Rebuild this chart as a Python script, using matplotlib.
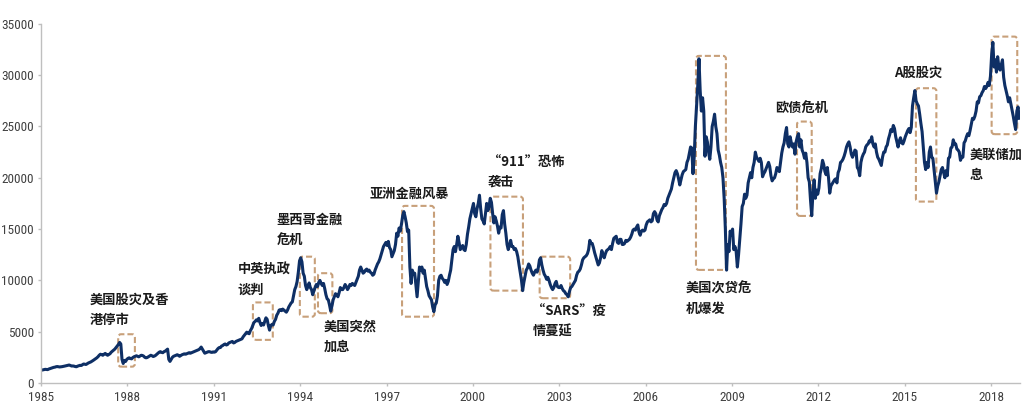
import matplotlib
matplotlib.use("Agg")
import matplotlib.pyplot as plt
from matplotlib import font_manager
import numpy as np
from matplotlib.patches import FancyBboxPatch

# Hang Seng Index, twice a month
start_year = 1985
hsi = [
    1250, 1270, 1300, 1330, 1310, 1300, 1360, 1400, 1450, 1480, 1520, 1540, 1580, 1600, 1580, 1560, 1570, 1590, 1610, 1640, 1670, 1700, 1720, 1750,  # 1985
    1700, 1650, 1660, 1640, 1600, 1580, 1640, 1680, 1720, 1700, 1780, 1850, 1820, 1800, 1880, 1950, 2000, 2050, 2120, 2200, 2280, 2350, 2450, 2560,  # 1986
    2700, 2800, 2760, 2700, 2800, 2880, 2780, 2700, 2780, 2850, 3000, 3100, 3200, 3300, 3450, 3600, 3750, 3950, 3800, 2300, 1900, 2200, 2100, 2300,  # 1987
    2400, 2450, 2380, 2350, 2480, 2550, 2600, 2650, 2600, 2550, 2620, 2700, 2680, 2620, 2500, 2450, 2480, 2550, 2620, 2700, 2650, 2580, 2620, 2690,  # 1988
    2800, 2900, 3000, 3050, 2980, 2950, 3050, 3100, 3200, 3300, 2300, 2100, 2300, 2500, 2600, 2650, 2700, 2750, 2700, 2600, 2680, 2750, 2800, 2840,  # 1989
    2800, 2850, 2900, 2950, 2900, 2950, 3000, 3050, 3100, 3150, 3200, 3250, 3350, 3500, 3300, 3100, 2900, 2950, 3000, 3050, 3050, 3000, 2980, 3030,  # 1990
    3000, 3050, 3200, 3350, 3450, 3450, 3600, 3650, 3750, 3800, 3700, 3750, 3900, 3950, 4000, 4050, 3900, 3950, 4050, 4100, 4150, 4200, 4250, 4300,  # 1991
    4500, 4650, 4800, 4950, 4850, 4800, 5100, 5300, 5600, 5900, 6000, 6150, 6050, 6300, 5900, 5600, 5800, 5650, 6000, 6350, 6200, 5600, 5150, 5600,  # 1992
    5700, 5650, 6000, 6200, 6600, 6800, 7100, 7150, 7050, 7200, 7100, 7000, 6900, 7100, 7400, 7600, 7800, 7900, 8500, 9100, 9400, 9900, 10800, 11900,  # 1993
    12200, 11800, 10700, 10400, 9500, 9100, 9400, 9750, 9300, 9100, 8600, 9000, 9300, 9600, 9400, 9800, 10000, 9700, 9500, 9700, 9200, 8600, 8200, 8100,  # 1994
    7600, 7000, 7500, 8100, 8400, 8700, 8600, 8400, 8800, 9300, 9100, 9100, 9300, 9600, 9400, 9100, 9300, 9600, 9500, 9700, 9600, 9500, 9800, 10100,  # 1995
    10400, 11000, 11300, 11000, 10700, 10800, 11000, 11100, 10900, 11000, 10800, 10700, 10500, 10600, 11000, 11300, 11600, 11800, 12100, 12500, 12900, 13300, 13500, 13700,  # 1996
    13400, 13800, 13200, 13000, 12300, 12600, 12900, 13500, 14600, 14300, 15100, 14800, 15500, 16300, 16700, 16200, 15600, 14750, 14900, 11300, 9700, 11000, 10600, 10700,  # 1997
    9500, 8400, 9800, 11300, 11000, 11300, 10700, 11000, 10200, 9400, 9000, 8500, 8300, 8100, 7400, 6950, 7600, 7800, 8500, 10000, 10400, 10500, 10200, 10050,  # 1998
    9800, 10000, 9600, 9900, 10500, 11000, 12000, 13000, 13300, 12800, 13500, 14300, 13700, 13000, 13200, 13400, 13000, 12900, 13500, 14500, 15200, 16000, 16500, 17000,  # 1999
    17500, 16500, 16200, 17000, 17500, 18300, 17000, 16000, 15800, 15500, 16500, 17500, 16800, 17200, 18000, 17600, 16500, 15600, 16200, 15800, 15300, 14600, 15200, 15100,  # 2000
    16400, 16800, 15500, 14600, 13500, 13000, 13400, 13900, 13300, 13300, 13000, 13100, 12800, 12300, 11500, 10800, 10040, 9000, 9800, 10400, 11000, 11200, 11600, 11400,  # 2001
    11000, 10700, 10500, 10800, 11000, 10800, 11200, 12000, 12200, 11500, 11000, 10600, 10400, 10100, 10300, 10000, 9600, 9300, 9100, 9300, 9700, 9900, 9400, 9300,  # 2002
    9300, 9500, 9200, 9000, 8900, 8700, 8600, 8400, 8900, 9300, 9400, 9600, 9800, 10000, 10500, 10800, 10900, 11100, 11500, 12000, 12200, 12300, 12400, 12600,  # 2003
    13000, 13900, 13600, 13600, 13200, 12700, 12300, 11900, 11500, 11700, 12200, 12900, 12500, 12200, 12600, 12900, 13000, 13100, 13300, 13000, 13600, 14100, 14200, 14300,  # 2004
    13700, 13600, 14000, 14000, 13500, 13500, 13600, 13900, 13800, 13900, 14000, 14200, 14500, 14900, 15000, 14900, 15200, 15400, 14700, 14400, 14800, 14900, 14800, 14900,  # 2005
    15400, 15700, 15800, 15900, 15700, 15800, 16500, 16700, 16500, 15900, 15700, 16300, 16600, 16900, 17100, 17400, 17300, 17500, 18000, 18300, 18600, 18900, 19500, 20000,  # 2006
    20500, 20700, 20400, 19900, 19300, 19800, 20300, 20600, 20700, 20800, 21500, 21800, 22400, 23000, 22900, 20400, 22000, 25000, 27000, 29000, 31600, 28500, 26500, 27800,  # 2007
    26500, 22100, 24000, 23500, 22500, 21800, 23000, 25000, 25500, 26200, 25000, 24300, 22700, 22200, 21500, 21000, 20000, 18000, 15000, 11000, 13500, 12800, 14800, 14400,  # 2008
    15000, 13000, 13300, 12800, 11300, 12500, 14000, 15500, 17200, 17500, 18400, 18000, 18300, 19500, 20000, 20500, 20000, 21000, 21500, 22500, 22000, 21800, 21600, 21900,  # 2009
    21500, 20100, 20400, 20600, 20900, 21200, 21500, 21100, 20200, 19700, 19900, 20000, 20400, 21000, 20900, 20600, 21500, 22400, 23000, 23400, 24300, 24900, 23300, 23000,  # 2010
    24000, 23400, 23000, 23300, 22300, 23500, 24000, 24300, 23000, 23700, 22700, 22400, 21900, 22400, 21500, 20000, 19600, 17800, 16300, 18500, 19800, 18000, 18800, 18400,  # 2011
    19000, 20400, 20900, 21700, 21300, 20600, 20300, 21000, 20000, 18500, 19200, 19400, 19600, 19800, 19900, 19500, 20500, 20800, 21500, 21600, 21800, 22100, 22500, 23000,  # 2012
    23300, 23500, 23000, 22300, 22000, 22300, 22700, 22600, 21000, 20800, 20200, 21500, 22000, 22300, 22500, 23000, 23200, 23300, 23600, 23500, 24000, 23300, 23000, 23300,  # 2013
    22500, 22000, 21800, 21500, 21200, 22000, 22500, 22500, 23000, 23200, 23800, 24200, 24700, 24500, 25100, 24800, 24000, 23500, 23000, 23600, 23900, 23400, 23300, 23600,  # 2014
    24000, 24300, 24600, 24800, 24400, 24900, 27000, 27800, 28500, 27500, 27200, 27000, 26200, 25300, 24500, 23000, 21500, 20800, 21500, 21000, 22500, 23000, 22000, 21900,  # 2015
    20800, 19600, 18500, 19200, 19600, 20200, 20800, 21000, 20500, 20000, 20700, 20200, 21900, 22000, 22900, 23000, 23700, 23300, 23300, 22800, 22700, 22500, 21700, 22000,  # 2016
    22000, 23400, 23600, 24000, 24300, 24100, 24600, 25200, 25800, 25700, 26000, 26500, 27400, 27300, 27900, 28000, 28300, 28500, 28900, 28700, 28900, 29300, 29000, 29900,  # 2017
    32000, 33200, 30800, 31500, 30300, 31800, 30800, 30500, 31000, 31500, 29800, 29000, 28500, 28000, 27400, 27800, 27200, 26600, 26000, 25300, 24700, 26500, 26900, 25800,  # 2018
]
years = start_year + (np.arange(len(hsi)) + 0.5) / 24

# event boxes: (x0, x1, y0, y1)
box_x0 = [1987.68, 1992.36, 1993.99, 1994.62, 1997.54, 2000.61, 2002.32, 2007.75, 2011.26, 2015.39, 2018.02]
box_x1 = [1988.26, 1993.05, 1994.51, 1995.12, 1998.65, 2001.74, 2003.38, 2008.79, 2011.77, 2016.10, 2018.91]
box_y0 = [1590, 4200, 6460, 6800, 6460, 9000, 8260, 11020, 16280, 17680, 24250]
box_y1 = [4750, 7850, 12310, 10700, 17260, 18160, 12310, 31880, 25480, 28730, 33760]

labels = ["美国股灾及香\n港停市", "中英执政\n谈判", "墨西哥金融\n危机", "美国突然\n加息",
          "亚洲金融风暴", "“911”恐怖\n袭击", "“SARS”疫\n情蔓延", "美国次贷危\n机爆发",
          "欧债危机", "A股股灾", "美联储加\n息"]
label_x = [1986.70, 1991.84, 1993.19, 1994.82, 1996.42, 2000.51, 2002.07, 2007.40, 2010.50, 2014.63, 2017.27]
label_y = [8770, 11700, 16570, 6140, 19110, 22230, 7600, 9850, 27490, 30900, 22900]

# narrow font for the tick numbers if one is around
installed = {f.name for f in font_manager.fontManager.ttflist}
tick_font, tick_size = 'Liberation Sans', 8.5
for name in ['Liberation Sans Narrow', 'Roboto Condensed', 'Open Sans Condensed']:
    if name in installed:
        tick_font, tick_size = name, 9.5
        break

fig = plt.figure(figsize=(10.26, 4.19), dpi=100)
ax = fig.add_axes([0.040, 0.086, 0.954, 0.857])

ax.plot(years, hsi, color='#0E2F65', lw=2.2, solid_joinstyle='round')

for x0, x1, y0, y1 in zip(box_x0, box_x1, box_y0, box_y1):
    p = FancyBboxPatch((x0, y0), x1 - x0, y1 - y0,
                       boxstyle="round,pad=0,rounding_size=0.1",
                       mutation_aspect=2800, fill=False,
                       edgecolor='#C8A07A', lw=1.5, linestyle=(0, (2.9, 1.45)))
    ax.add_patch(p)

for t, x, y in zip(labels, label_x, label_y):
    ax.text(x, y, t, fontsize=9.5, family=['Noto Sans CJK SC', 'DejaVu Sans'],
            fontweight='bold', color='#1a1a1a', ha='left', va='top', linespacing=1.55)

ax.set_xlim(1985, 2019)
ax.set_ylim(0, 35000)
ax.set_xticks(np.arange(1985, 2019, 3))
ax.set_yticks(np.arange(0, 35001, 5000))

for s in ['top', 'right']:
    ax.spines[s].set_visible(False)
for s in ['left', 'bottom']:
    ax.spines[s].set_color('#BFBFBF')
    ax.spines[s].set_linewidth(1.0)
ax.tick_params(axis='both', colors='#BFBFBF', length=2, width=1, labelcolor='#404040', labelsize=tick_size)
ax.tick_params(axis='y', pad=3.3)
ax.tick_params(axis='x', pad=4)
for lab in ax.get_xticklabels() + ax.get_yticklabels():
    lab.set_family(tick_font)

fig.savefig('out.png', dpi=100)
